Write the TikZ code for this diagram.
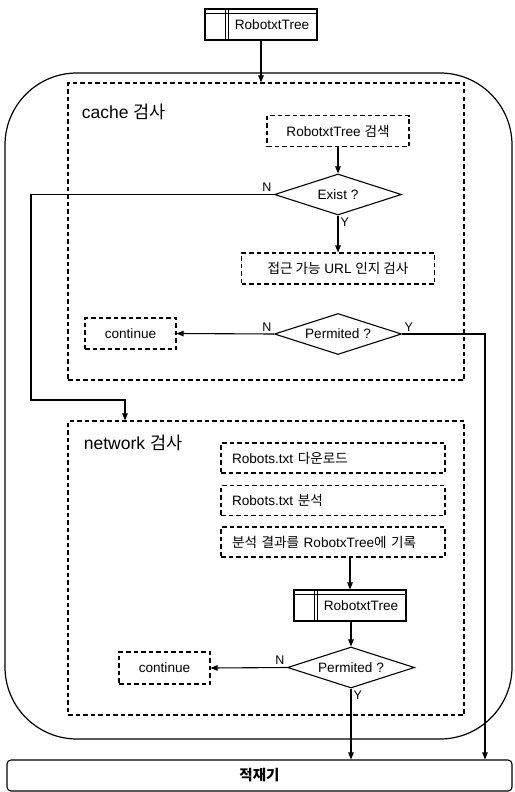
\documentclass[tikz,border=0pt]{standalone}
\usepackage{fontspec}
\setmainfont{Liberation Sans}
\newfontfamily\kr{Noto Sans CJK KR}
\usetikzlibrary{shapes.geometric,arrows.meta,calc}
\tikzset{base/.style={
    font=\fontsize{13.6}{15}\selectfont,
    line width=1.1pt},
  dbox/.style={
    draw=black,
    dash pattern=on 4.5pt off 3pt,
    line width=1.1pt,
    minimum height=31,
    inner sep=3pt},
  lbox/.style={
    dbox,
    align=left,
    inner xsep=11pt,
    text width=202pt,
    minimum height=30},
  group/.style={
    draw=black,
    dash pattern=on 4.5pt off 3pt,
    line width=1.2pt,
    minimum width=396},
  title/.style={
    font=\fontsize{17.5}{19}\selectfont,
    anchor=west},
  store/.style={
    draw=black,
    minimum width=112,
    minimum height=31,
    inner sep=2pt},
  decision/.style={
    diamond,
    draw=black,
    aspect=3,
    inner sep=1pt,
    minimum width=127,
    minimum height=41},
  lbl/.style={
    font=\fontsize{12.5}{14}\selectfont,
    inner sep=2pt},
  arr/.style={
    -{Triangle[length=7pt,width=5.5pt]}}}
\newcommand{\storelines}[1]{%
  \draw ($(#1.north west)+(0,-5)$) -- ($(#1.north east)+(0,-5)$)
    ($(#1.north west)+(21,0)$) -- ($(#1.south west)+(21,0)$)
    ($(#1.north west)+(24,0)$) -- ($(#1.south west)+(24,0)$);}

\begin{document}
\begin{tikzpicture}[x=1pt,y=1pt,base]
\useasboundingbox (0,0) rectangle (514,-792);

% outer frame
\draw[line width=1.2pt, rounded corners=72pt] (5,-73) rectangle (512,-739);

\coordinate (T) at (261,-24.5);
\coordinate (C) at (266,-231.5);
\coordinate (N) at (266,-568);
\coordinate (L) at (259.5,-775.5);

\node[store] (tree1) at (T) {\hspace*{22pt}RobotxtTree};
\storelines{tree1}

% cache
\node[group, minimum height=297] (cache) at (C) {};
\node[title] (cachet) at (78,-112) {cache {\kr 검사}};
\node[dbox, minimum width=142] (search) at (338,-131) {RobotxtTree {\kr 검색}};
\node[decision] (exist) at (338,-194.5) {Exist ?};
\node[dbox, minimum width=193] (access) at (338,-268.5) {{\kr 접근 가능} URL {\kr 인지 검사}};
\node[decision] (permit1) at (338,-334) {Permited ?};
\node[dbox, minimum width=91] (cont1) at (130.5,-333.5) {continue};

% network
\node[group, minimum height=294] (network) at (N) {};
\node[title] (networkt) at (80,-443) {network {\kr 검사}};
\node[lbox] (dl) at (333,-458) {Robots.txt {\kr 다운로드}};
\node[lbox] (ana) at (333,-500.5) {Robots.txt {\kr 분석}};
\node[lbox] (rec) at (333,-542) {{\kr 분석 결과를} RobotxTree{\kr 에 기록}};
\node[store] (tree2) at (350,-605.5) {\hspace*{22pt}RobotxtTree};
\storelines{tree2}
\node[decision] (permit2) at (351,-667.5) {Permited ?};
\node[dbox, minimum width=91, minimum height=32] (cont2) at (164.5,-668) {continue};

\node[draw=black, rounded corners=4pt, minimum width=505, minimum height=31,
  font=\fontsize{14.5}{16}\selectfont] (loader) at (L) {\kr\bfseries 적재기};

\coordinate (loop1) at (31,-400);
\coordinate (loop2) at (125,-400);
\coordinate (yright) at (485,-334);

\draw[arr] (tree1.south) -- (cache.north -| tree1.south);
\draw[arr] (search) -- (exist);
\draw[arr] (exist) -- (access);
\draw[arr] (exist.west) -| (loop1) -- (loop2) -- (loop2 |- network.north);
\draw[arr] (permit1.west) -- (cont1.east);
\draw[arr] (permit1.east) -- (yright) -- (yright |- loader.north);
\draw[arr] (rec.south -| tree2.north) -- (tree2.north);
\draw[arr] (tree2.south -| permit2.north) -- (permit2.north);
\draw[arr] (permit2.west) -- (cont2.east);
\draw[arr] (permit2.south) -- (permit2.south |- loader.north);

\node[lbl, above left] at (exist.west) {N};
\node[lbl, below right] at (exist.south) {Y};
\node[lbl, above left] at (permit1.west) {N};
\node[lbl, above right] at (permit1.east) {Y};
\node[lbl, above left] at (permit2.west) {N};
\node[lbl, below right] at (permit2.south) {Y};

\end{tikzpicture}
\end{document}
